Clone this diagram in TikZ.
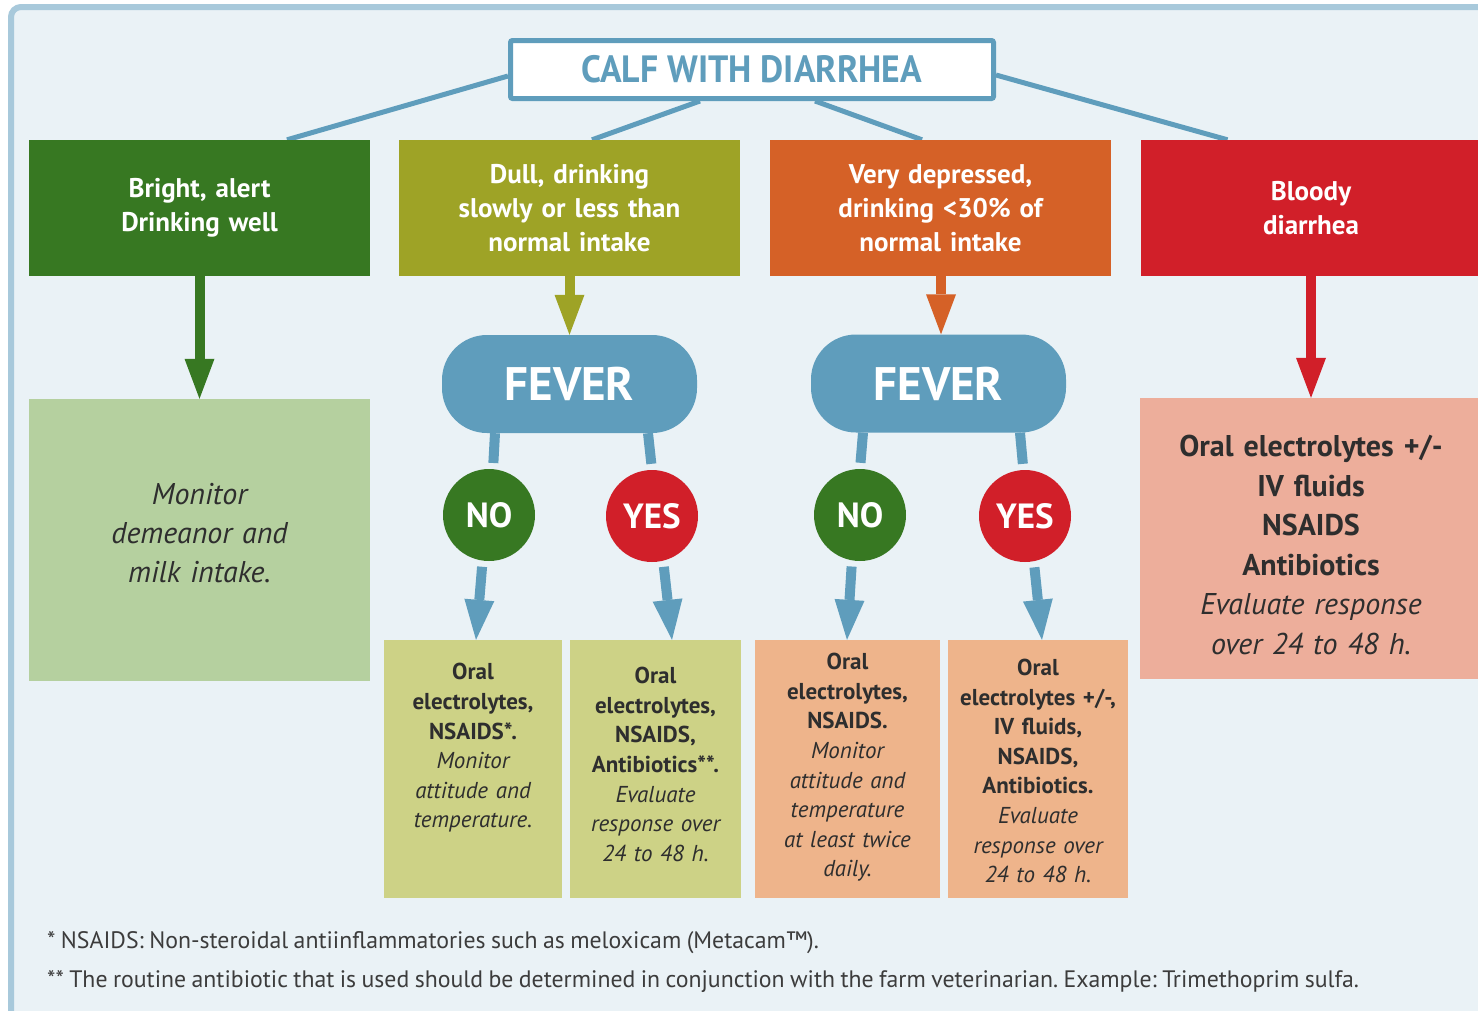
\documentclass[tikz,border=0pt]{standalone}
\usepackage{fontspec}
\setmainfont{PT Sans}[WordSpace=0.85]
\newfontfamily\titlefont{PT Sans}[FakeStretch=0.94]
\frenchspacing
\usetikzlibrary{arrows.meta,calc,backgrounds}

\definecolor{bgblue}{HTML}{EAF2F6}
\definecolor{framebl}{HTML}{A8C9DB}
\definecolor{steel}{HTML}{5F9DBC}
\definecolor{leaf}{HTML}{377822}
\definecolor{moss}{HTML}{9EA326}
\definecolor{rust}{HTML}{D56127}
\definecolor{blood}{HTML}{D11F29}
\definecolor{sage}{HTML}{B5D09F}
\definecolor{khaki}{HTML}{CDD286}
\definecolor{peach}{HTML}{EEB48B}
\definecolor{salmon}{HTML}{EDAE9B}
\definecolor{ink}{HTML}{2E2E2E}
\definecolor{notegray}{HTML}{3C3C3C}

\tikzset{
  headbox/.style={rectangle, inner sep=0pt, minimum width=341pt, minimum height=136pt,
    text width=330pt, align=center, text=white, font=\bfseries\fontsize{27}{34}\selectfont},
  feverbox/.style={rectangle, rounded corners=45pt, fill=steel, inner sep=0pt,
    minimum width=255pt, minimum height=98pt, text=white, font=\bfseries\fontsize{47}{47}\selectfont},
  answer/.style={circle, inner sep=0pt, minimum size=92pt, text=white,
    font=\bfseries\fontsize{35}{35}\selectfont},
  carebox/.style={rectangle, inner sep=0pt, minimum height=258pt},
  caretext/.style={inner sep=0pt, text width=180pt, align=center, text=ink,
    font=\fontsize{23}{29.6}\selectfont},
  bigtext/.style={inner sep=0pt, text width=330pt, align=center, text=ink,
    font=\fontsize{30}{39.6}\selectfont},
  link/.style={draw=steel, line width=5pt},
  stem/.style={draw=steel, line width=10pt},
  drop/.style={line width=10pt, -{Triangle[width=30pt,length=40pt,line width=0pt]}},
  footnote/.style={anchor=west, inner sep=0pt, text=notegray, font=\fontsize{23.8}{26}\selectfont}
}

\begin{document}
\begin{tikzpicture}[x=1pt, y=-1pt]
\useasboundingbox (0,0) rectangle (1478,1010);

% panel background and frame
\begin{scope}[on background layer]
  \clip (0,0) rectangle (1478,1010);
  \fill[white] (0,0) rectangle (1478,1010);
  \draw[framebl, fill=bgblue, line width=6pt, rounded corners=10pt] (11,7) rectangle (1530,1060);
\end{scope}

% title
\node[rectangle, draw=steel, line width=5pt, fill=white, rounded corners=2pt,
  minimum width=483pt, minimum height=58pt, inner sep=0pt, text=steel,
  font=\titlefont\bfseries\fontsize{38}{38}\selectfont] (title) at (752,69.5) {CALF WITH DIARRHEA};

% first row: condition of the calf
\node[headbox, fill=leaf] (g1) at (199.5,208) {Bright, alert\\Drinking well};
\node[headbox, fill=moss] (o1) at (569.5,208) {Dull, drinking\\slowly or less than\\normal intake};
\node[headbox, fill=rust] (r1) at (940.5,208) {Very depressed,\\drinking <30\% of\\normal intake};
\node[headbox, fill=blood] (d1) at (1311,208) {Bloody\\diarrhea};

% fever decisions
\node[feverbox] (fev1) at (569.5,384) {FEVER};
\node[feverbox] (fev2) at (938.5,383.5) {FEVER};

\node[answer, fill=leaf] (no1) at (489,515) {NO};
\node[answer, fill=blood] (yes1) at (652,516) {YES};
\node[answer, fill=leaf] (no2) at (860,515) {NO};
\node[answer, fill=blood] (yes2) at (1025,516) {YES};

% treatment boxes
\node[rectangle, inner sep=0pt, fill=sage, minimum width=341pt, minimum height=282pt] (mon) at (199.5,540) {};
\node[bigtext, font=\itshape\fontsize{30}{39}\selectfont] (montext) at (199.5,533) {Monitor\\demeanor and\\milk intake.};

\node[carebox, fill=khaki, minimum width=178pt] (ba) at (473,769) {};
\node[carebox, fill=khaki, minimum width=171pt] (bb) at (655.5,769) {};
\node[carebox, fill=peach, minimum width=185pt] (bc) at (847.5,769) {};
\node[carebox, fill=peach, minimum width=180pt] (bd) at (1038,769) {};
\node[rectangle, inner sep=0pt, fill=salmon, minimum width=342pt, minimum height=281pt] (rb) at (1311,538.5) {};

\node[caretext] (ta) at (473,748) {\textbf{Oral\\electrolytes,\\NSAIDS*.}\\\textit{Monitor\\attitude and\\temperature.}};
\node[caretext] (tb) at (655.5,764.5) {\textbf{Oral\\electrolytes,\\NSAIDS,\\Antibiotics**.}\\\textit{Evaluate\\response over\\24 to 48 h.}};
\node[caretext] (tc) at (847.5,767.5) {\textbf{Oral\\electrolytes,\\NSAIDS.}\\\textit{Monitor\\attitude and\\temperature\\at least twice\\daily.}};
\node[caretext] (td) at (1038,771) {\textbf{Oral\\electrolytes +/-,\\IV fluids,\\NSAIDS,\\Antibiotics.}\\\textit{Evaluate\\response over\\24 to 48 h.}};
\node[bigtext] (tr) at (1311,545) {\textbf{Oral electrolytes +/-\\IV fluids\\NSAIDS\\Antibiotics}\\\textit{Evaluate response\\over 24 to 48 h.}};

% links from the title to the first row
\begin{scope}[on background layer]
  \draw[link] ($(title.west)+(0,6.5)$) -- ($(g1.north)+(87.5,0)$);
  \draw[link] ($(title.south)+(-52,0)$) -- ($(o1.north)+(22.5,0)$);
  \draw[link] ($(title.south)+(63,0)$) -- ($(r1.north)+(-18.5,0)$);
  \draw[link] ($(title.east)+(0,5.5)$) -- ($(d1.north)+(-83.5,0)$);
\end{scope}

% arrows from the first row
\draw[drop, leaf] (g1.south) -- (mon.north);
\draw[drop, moss] (o1.south) -- (fev1.north);
\draw[drop, rust] ($(r1.south)+(0.5,0)$) -- ($(fev2.north)+(2.5,0)$);
\draw[drop, blood] (d1.south) -- (rb.north);

% fever to answers
\draw[stem, shorten >=6pt] ($(fev1.south)+(-74.5,0)$) -- (no1.85);
\draw[stem, shorten >=6pt] ($(fev1.south)+(78.5,0)$) -- (yes1.90);
\draw[stem, shorten >=6pt] ($(fev2.south)+(-75.5,0)$) -- (no2.90);
\draw[stem, shorten >=6pt] ($(fev2.south)+(81.5,0)$) -- (yes2.92);

% answers to treatments
\draw[drop, steel, shorten <=6pt] (no1.262) -- ($(ba.north)+(3,0)$);
\draw[drop, steel, shorten <=6pt] (yes1.284) -- ($(bb.north)+(16.5,0)$);
\draw[drop, steel, shorten <=6pt] (no2.260) -- ($(bc.north)+(-0.5,0)$);
\draw[drop, steel, shorten <=6pt] (yes2.281) -- ($(bd.north)+(4,0)$);

% footnotes
\node[footnote] (fn1) at (47,943) {* NSAIDS: Non-steroidal antiinflammatories such as meloxicam (Metacam™).};
\node[footnote] (fn2) at (47,982) {** The routine antibiotic that is used should be determined in conjunction with the farm veterinarian. Example: Trimethoprim sulfa.};
\end{tikzpicture}
\end{document}
